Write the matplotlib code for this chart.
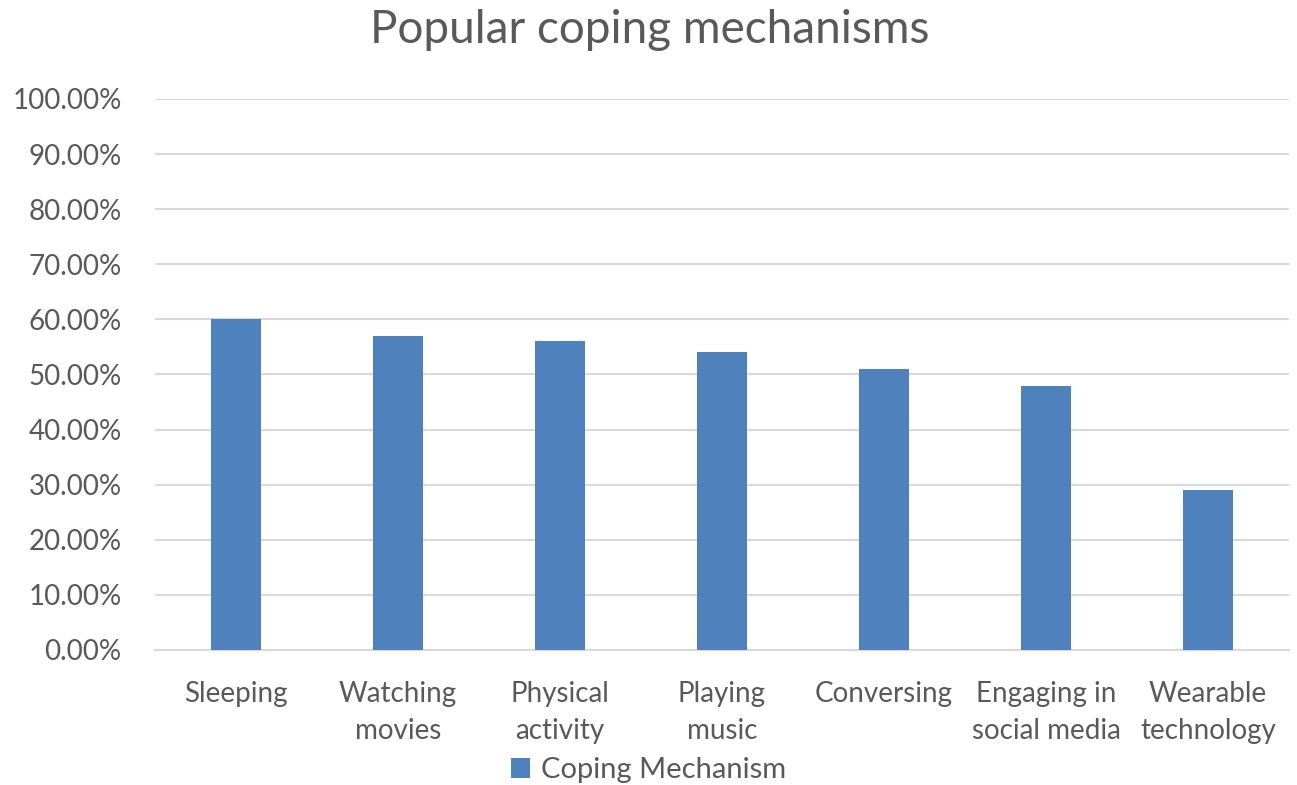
import matplotlib
matplotlib.use('Agg')
from matplotlib import pyplot as plt
from matplotlib.ticker import PercentFormatter

categories = ['Sleeping', 'Watching\nmovies', 'Physical\nactivity', 'Playing\nmusic',
              'Conversing', 'Engaging in\nsocial media', 'Wearable\ntechnology']
values = [60, 57, 56, 54, 51, 48, 29]
yticks = [0, 10, 20, 30, 40, 50, 60, 70, 80, 90, 100]

plt.rcParams['font.family'] = ['Lato', 'DejaVu Sans']
grey = '#595959'

fig = plt.figure(figsize=(12.97, 7.85), dpi=100)
ax = fig.add_axes([0.1195, 0.172, 0.8743, 0.7019])

ax.bar(range(len(categories)), values, width=0.31, color='#4f81bd',
       label='Coping Mechanism', zorder=3)

ax.set_xlim(-0.5, len(categories) - 0.5)
ax.set_ylim(0, 100)
ax.set_yticks(yticks)
ax.yaxis.set_major_formatter(PercentFormatter(decimals=2))
ax.set_xticks(range(len(categories)))
ax.set_xticklabels(categories, fontsize=20, color=grey, linespacing=1.55)
ax.tick_params(axis='y', labelsize=20, labelcolor=grey, length=0, pad=24)
ax.tick_params(axis='x', length=0, pad=22)
ax.grid(axis='y', color='#d9d9d9', linewidth=1.5, zorder=0)
for s in ['top', 'right', 'left']:
    ax.spines[s].set_visible(False)
ax.spines['bottom'].set_color('#d9d9d9')
ax.spines['bottom'].set_linewidth(1.5)

fig.text(0.501, 0.962, 'Popular coping mechanisms', fontsize=33, color=grey,
         ha='center', va='center')

fig.legend(loc='center', bbox_to_anchor=(0.5, 0.019), frameon=False, fontsize=21,
           labelcolor=grey, handlelength=0.65, handleheight=0.65, handletextpad=0.35)

fig.savefig('out.png', dpi=100)
